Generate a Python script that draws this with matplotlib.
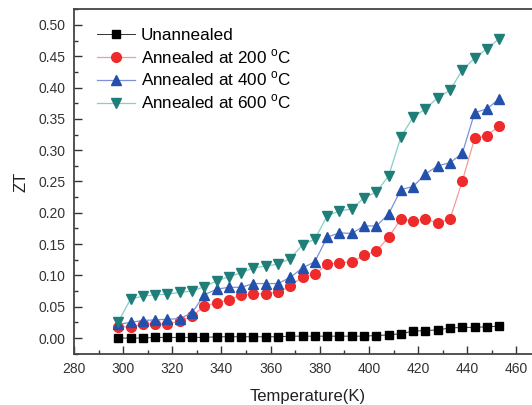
import matplotlib
matplotlib.use("Agg")
import matplotlib.pyplot as plt
from matplotlib.ticker import MultipleLocator, FormatStrFormatter

plt.rcParams['font.family'] = ['Liberation Sans', 'DejaVu Sans']
plt.rcParams['mathtext.fontset'] = 'custom'
plt.rcParams['mathtext.rm'] = 'Liberation Sans'

# temperature (K)
temp = [298 + 5 * i for i in range(32)]

zt_unannealed = [0.000, 0.000, 0.000, 0.001, 0.001, 0.001, 0.001, 0.001,
                 0.002, 0.002, 0.002, 0.002, 0.002, 0.002, 0.003, 0.003,
                 0.003, 0.003, 0.003, 0.003, 0.003, 0.004, 0.005, 0.007,
                 0.011, 0.012, 0.013, 0.016, 0.017, 0.017, 0.018, 0.019]
zt_200 = [0.018, 0.018, 0.022, 0.022, 0.022, 0.027, 0.035, 0.051,
          0.056, 0.061, 0.069, 0.070, 0.071, 0.073, 0.083, 0.098,
          0.102, 0.118, 0.120, 0.122, 0.132, 0.139, 0.161, 0.190,
          0.187, 0.190, 0.184, 0.190, 0.251, 0.319, 0.323, 0.339]
zt_400 = [0.022, 0.025, 0.028, 0.029, 0.030, 0.031, 0.040, 0.069,
          0.078, 0.081, 0.081, 0.087, 0.087, 0.087, 0.097, 0.112,
          0.122, 0.161, 0.168, 0.167, 0.179, 0.179, 0.198, 0.237,
          0.242, 0.262, 0.275, 0.280, 0.295, 0.360, 0.366, 0.382]
zt_600 = [0.026, 0.062, 0.067, 0.069, 0.070, 0.073, 0.075, 0.082,
          0.091, 0.098, 0.104, 0.112, 0.115, 0.118, 0.127, 0.149,
          0.158, 0.195, 0.203, 0.206, 0.224, 0.233, 0.259, 0.321,
          0.353, 0.366, 0.384, 0.396, 0.428, 0.447, 0.462, 0.478]

labels = ['Unannealed', 'Annealed at 200 $^{\\mathrm{o}}$C',
          'Annealed at 400 $^{\\mathrm{o}}$C', 'Annealed at 600 $^{\\mathrm{o}}$C']

fig = plt.figure(figsize=(5.32, 4.05), dpi=100)
ax = fig.add_axes([74 / 532, 51 / 405, 467 / 532, 345 / 405])

ax.plot(temp, zt_unannealed, '-s', color='#333333', mfc='black', mec='black',
        ms=5.8, lw=0.7, label=labels[0])
ax.plot(temp, zt_200, '-o', color='#f59a9a', mfc='#ee2a2a', mec='#ee2a2a',
        ms=7, lw=0.9, label=labels[1])
ax.plot(temp, zt_400, '-^', color='#8090d8', mfc='#2350aa', mec='#2350aa',
        ms=7.5, lw=0.9, label=labels[2])
ax.plot(temp, zt_600, '-v', color='#86cfc6', mfc='#1f7f78', mec='#1f7f78',
        ms=7.5, lw=0.9, label=labels[3])

ax.set_xlim(280, 470)
ax.set_ylim(-0.0255, 0.5255)
ax.xaxis.set_major_locator(MultipleLocator(20))
ax.xaxis.set_minor_locator(MultipleLocator(10))
ax.yaxis.set_major_locator(MultipleLocator(0.05))
ax.yaxis.set_minor_locator(MultipleLocator(0.025))
ax.yaxis.set_major_formatter(FormatStrFormatter('%.2f'))

ax.tick_params(which='both', direction='in', top=False, right=False,
               colors='#333333', labelsize=10, width=1.0)
ax.tick_params(which='major', length=5.5, pad=6)
ax.tick_params(which='minor', length=3)
for s in ax.spines.values():
    s.set_linewidth(1.3)
    s.set_color('#444444')

ax.set_xlabel('Temperature(K)', fontsize=12, color='#222222', labelpad=9)
ax.set_ylabel('ZT', fontsize=12, color='#222222', labelpad=7)

ax.legend(loc='upper left', bbox_to_anchor=(0.02, 0.985), frameon=False,
          fontsize=12.3, handlelength=2.2, handletextpad=0.35, labelspacing=0.25,
          borderaxespad=0.4)

fig.savefig('out.png', dpi=100)
